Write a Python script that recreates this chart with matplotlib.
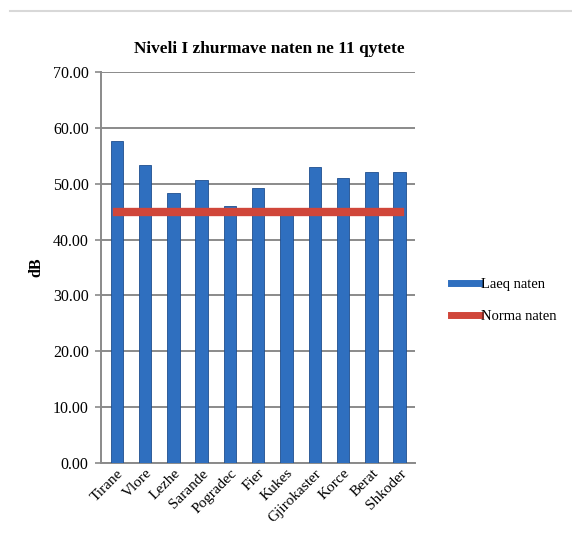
import matplotlib.pyplot as plt
from matplotlib.lines import Line2D

# Night noise levels measured in 11 cities, against the night limit
cities = ['Tirane', 'Vlore', 'Lezhe', 'Sarande', 'Pogradec', 'Fier',
          'Kukes', 'Gjirokaster', 'Korce', 'Berat', 'Shkoder']
laeq_naten = [57.6, 53.4, 48.3, 50.7, 46.0, 49.3, 45.2, 53.1, 51.1, 52.1, 52.1]
norma_naten = [45.0] * len(cities)
y_ticks = [0, 10, 20, 30, 40, 50, 60, 70]

plt.rcParams['font.family'] = ['Liberation Serif', 'DejaVu Serif']

fig = plt.figure(figsize=(5.72, 5.36), dpi=100)
ax = fig.add_axes([0.177, 0.137, 0.549, 0.728])

x = range(len(cities))
ax.bar(x, laeq_naten, width=0.44, color='#2f6fbf', edgecolor='#1f4f8f',
       linewidth=0.6, zorder=3, label='Laeq naten')
ax.plot(x, norma_naten, color='#d0463a', linewidth=6, zorder=4,
        solid_capstyle='projecting', label='Norma naten')

ax.set_xlim(-0.55, len(cities) - 0.45)
ax.set_ylim(0, 70)
ax.set_yticks(y_ticks)
ax.set_yticklabels([f'{v:.2f}' for v in y_ticks], fontsize=11.5)
ax.set_xticks(list(x))
ax.set_xticklabels(cities, rotation=45, ha='right', rotation_mode='anchor',
                   fontsize=11)
ax.yaxis.grid(True, color='#8a8a8a', linewidth=1.4, zorder=0)
ax.tick_params(axis='y', length=4, color='#8a8a8a', width=1.2, pad=5)
ax.tick_params(axis='x', length=0, pad=3)

for side in ['top', 'right']:
    ax.spines[side].set_visible(False)
for side in ['left', 'bottom']:
    ax.spines[side].set_color('#8a8a8a')
    ax.spines[side].set_linewidth(1.4)

ax.set_ylabel('dB', fontsize=11.5, fontweight='bold', labelpad=6)
ax.set_title('Niveli I zhurmave naten ne 11 qytete', fontsize=12.4,
             fontweight='bold', pad=14, x=0.535)

handles = [Line2D([0], [0], color='#2f6fbf', linewidth=5),
           Line2D([0], [0], color='#d0463a', linewidth=5)]
fig.legend(handles, ['Laeq naten', 'Norma naten'], loc='center left',
           bbox_to_anchor=(0.765, 0.44), frameon=False, fontsize=10.5,
           handlelength=2.0, handletextpad=0.1, labelspacing=1.3)

# thin frame line across the top of the chart area
fig.add_artist(Line2D([0.018, 1.0], [0.979, 0.979], color='#d8d8d8',
                      linewidth=1.5, transform=fig.transFigure))

fig.savefig('out.png', dpi=100, facecolor='white')
